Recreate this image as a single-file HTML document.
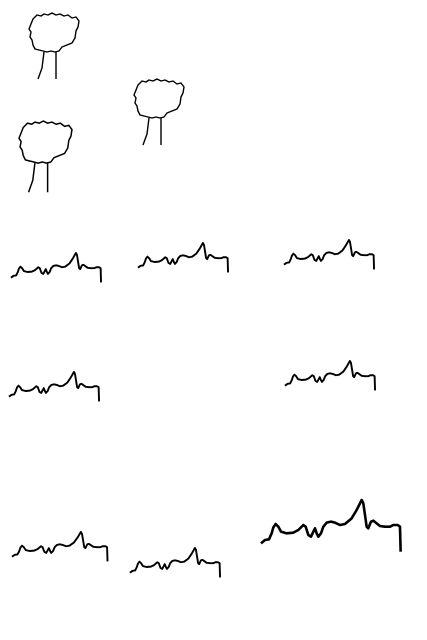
<!DOCTYPE html>
<html><head><meta charset="utf-8"><style>html,body{margin:0;padding:0;background:#fff}svg{display:block}</style></head>
<body>
<svg width="427" height="640" viewBox="0 0 427 640">
<defs>
<g id="tree" fill="none" stroke="#000" stroke-width="1.4" stroke-linejoin="round">
<path d="M4,6 L8,2 L12,3 L15,1 L19,2 L23,0 L27,2 L31,1 L35,3 L39,2 L43,5 L47,4 L50,8 L49,14 L47,18 L46,25 L43,30 L38,32 L33,34 L30,38 L26,39 L22,38 L18,39 L14,38 L10,37 L6,36 L4,32 L3,27 L1,24 L2,19 L0,16 L2,11 Z"/>
<path d="M15,39 L13,55 L9,66"/>
<path d="M27,39 L27,66"/>
</g>
<g id="grass" fill="none" stroke="#000" stroke-linejoin="round">
<polyline vector-effect="non-scaling-stroke" points="18,160 30,150 42,148 50,130 55,112 62,102 70,110 78,125 95,130 115,128 130,120 145,105 152,110 160,135 168,140 175,125 180,115 185,130 190,140 198,130 205,110 215,98 228,95 240,98 255,105 270,102 290,85 305,60 320,30 325,40 330,75 335,110 340,115 348,95 355,92 365,100 375,108 390,110 405,110 415,105 428,105 435,110 437,185"/>
</g>
</defs>
<use href="#tree" transform="translate(29,13)"/>
<use href="#tree" transform="translate(134,79)"/>
<use href="#tree" transform="translate(19,121) scale(1.06,1.08)"/>
<use href="#grass" stroke-width="1.9" transform="translate(7.1,247.3) scale(0.215,0.19)"/>
<use href="#grass" stroke-width="1.9" transform="translate(134.1,237.3) scale(0.215,0.19)"/>
<use href="#grass" stroke-width="1.9" transform="translate(280.1,234.3) scale(0.215,0.19)"/>
<use href="#grass" stroke-width="1.9" transform="translate(5.1,366.3) scale(0.215,0.19)"/>
<use href="#grass" stroke-width="1.9" transform="translate(281.1,355.3) scale(0.215,0.19)"/>
<use href="#grass" stroke-width="1.9" transform="translate(7.9,526.3) scale(0.228,0.19)"/>
<use href="#grass" stroke-width="1.9" transform="translate(126.1,542.3) scale(0.215,0.19)"/>
<use href="#grass" stroke-width="2.6" transform="translate(255,490) scale(0.3333)"/>
</svg>
</body></html>
